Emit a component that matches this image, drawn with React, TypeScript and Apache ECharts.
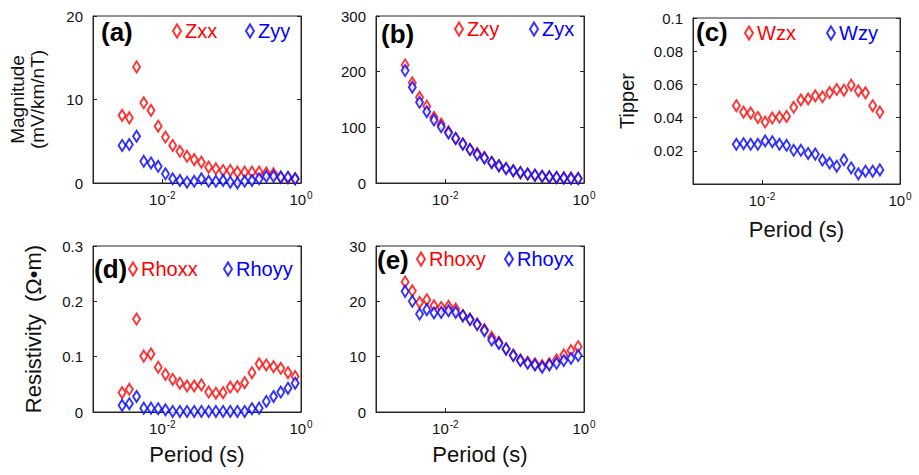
import React, { useEffect, useRef } from "react";
import * as echarts from "echarts";

const periods = [0.00263, 0.00334, 0.00425, 0.0054, 0.00686, 0.00871, 0.0111, 0.0141, 0.0179, 0.0227, 0.0288, 0.0366, 0.0466, 0.0592, 0.0752, 0.0955, 0.121, 0.154, 0.196, 0.249, 0.316, 0.402, 0.511, 0.649, 0.824];
const tipperPeriods = [0.00425, 0.0054, 0.00686, 0.00871, 0.0111, 0.0141, 0.0179, 0.0227, 0.0288, 0.0366, 0.0466, 0.0592, 0.0752, 0.0955, 0.121, 0.154, 0.196, 0.249, 0.316, 0.402, 0.511];

const zxx = [8.1, 7.8, 13.9, 9.6, 8.7, 6.8, 5.5, 4.5, 3.8, 3.2, 2.8, 2.5, 1.9, 1.7, 1.5, 1.5, 1.3, 1.3, 1.3, 1.3, 1.2, 1.1, 0.7, 0.6, 0.5];
const zyy = [4.5, 4.6, 5.6, 2.6, 2.4, 2.0, 1.1, 0.5, 0.3, 0.1, 0.2, 0.5, 0.2, 0.2, 0.3, 0.1, 0.0, 0.2, 0.3, 0.5, 0.8, 0.8, 0.7, 0.7, 0.5];
const zxy = [212, 180, 154, 138, 118, 106, 92, 80, 70, 60, 53, 46, 37, 31, 26, 22, 18, 16, 14, 12, 11, 10, 9, 9, 8];
const zyx = [202, 172, 145, 128, 113, 101, 90, 80, 70, 60, 51, 45, 37, 31, 26, 22, 19, 16, 14, 12, 11, 10, 9, 8, 8];
const wzx = [0.0472, 0.0433, 0.0427, 0.0401, 0.0373, 0.0397, 0.0403, 0.0407, 0.0462, 0.0506, 0.0512, 0.0531, 0.0525, 0.0551, 0.0569, 0.0565, 0.0595, 0.0561, 0.0549, 0.0472, 0.0433];
const wzy = [0.0239, 0.0243, 0.0239, 0.0239, 0.0259, 0.0255, 0.0239, 0.0233, 0.0203, 0.0203, 0.0184, 0.018, 0.0144, 0.0126, 0.0107, 0.0146, 0.0097, 0.0061, 0.0077, 0.0077, 0.0085];
const rhoxx = [0.035, 0.041, 0.168, 0.101, 0.105, 0.081, 0.068, 0.059, 0.052, 0.047, 0.047, 0.049, 0.036, 0.034, 0.035, 0.045, 0.046, 0.053, 0.071, 0.087, 0.085, 0.082, 0.079, 0.071, 0.064];
const rhoyy = [0.012, 0.015, 0.028, 0.007, 0.007, 0.006, 0.004, 0.001, 0.001, 0.001, 0.001, 0.001, 0.001, 0.001, 0.001, 0.001, 0.001, 0.001, 0.006, 0.007, 0.019, 0.028, 0.036, 0.043, 0.052];
const rhoxy = [23.5, 21.9, 19.8, 20.3, 19.2, 18.9, 19.1, 18.6, 17.4, 16.8, 15.9, 14.9, 13.5, 12.6, 11.4, 10.3, 9.4, 9.0, 8.7, 8.4, 8.7, 9.4, 10.3, 11.1, 11.8];
const rhoyx = [21.8, 20.0, 17.7, 18.5, 17.9, 18.0, 18.3, 18.0, 17.4, 16.7, 15.8, 14.7, 13.0, 12.4, 11.4, 10.2, 9.3, 8.8, 8.5, 8.1, 8.5, 8.8, 9.3, 9.7, 10.2];

const panelLabels = ["(a)", "(b)", "(c)", "(d)", "(e)"];
const xTickValues = [0.01];
const xLabelValues = [0.01, 1];

const RED = "#ff0000";
const BLUE = "#0000ff";
const FONT = "'Liberation Sans', Arial, Helvetica, sans-serif";
const AXC = "#262626";

export default function App() {
  const ref = useRef<HTMLDivElement>(null);
  useEffect(() => {
    document.body.style.margin = "0";
    const chart = echarts.init(ref.current!, null, { renderer: "svg" });

    const grids = [
      { left: 93, top: 16, width: 208, height: 167 },
      { left: 376, top: 16, width: 208, height: 167 },
      { left: 693, top: 18, width: 207, height: 166 },
      { left: 93, top: 246, width: 208, height: 166 },
      { left: 376, top: 246, width: 208, height: 166 },
    ].map((g) => ({ ...g, show: true, borderColor: AXC, borderWidth: 1, backgroundColor: "transparent" }));

    const xName = [null, null, "Period (s)", "Period (s)", "Period (s)"];
    const xGap = [30, 30, 34, 31, 31];
    const xAxis = grids.map((_, i) => ({
      type: "log",
      logBase: 10,
      gridIndex: i,
      min: 0.001,
      max: 1,
      name: xName[i] || "",
      nameLocation: "middle",
      nameGap: xGap[i],
      nameTextStyle: { fontSize: 22, fontFamily: FONT, color: "#111", verticalAlign: "top" },
      axisLine: { show: true, lineStyle: { color: AXC } },
      axisTick: { show: true, inside: true, length: 4, lineStyle: { color: AXC }, customValues: xTickValues },
      minorTick: { show: false },
      splitLine: { show: false },
      axisLabel: {
        customValues: xLabelValues,
        margin: 7,
        formatter: (v: number) => {
          const e = Math.round(Math.log10(v));
          if (e !== -2 && e !== 0) return "";
          return "{b|10}{s|" + e + "}";
        },
        rich: {
          b: { fontSize: 15, fontFamily: FONT, color: "#111", lineHeight: 18 },
          s: { fontSize: 10, fontFamily: FONT, color: "#111", verticalAlign: "top", lineHeight: 10, padding: [0, 0, 0, 1] },
        },
      },
    }));

    const yCfg = [
      { min: 0, max: 20, interval: 10, name: "Magnitude\n(mV/km/nT)", gap: 46, fs: 19 },
      { min: 0, max: 300, interval: 100, name: "", gap: 40, fs: 18 },
      { min: 0, max: 0.1, interval: 0.02, name: "Tipper", gap: 56, fs: 20 },
      { min: 0, max: 0.3, interval: 0.1, name: "Resistivity  (Ω•m)", gap: 50, fs: 22 },
      { min: 0, max: 30, interval: 10, name: "", gap: 40, fs: 18 },
    ];
    const yAxis: any[] = [];
    yCfg.forEach((c, i) => {
      yAxis.push({
        type: "value",
        gridIndex: i,
        min: c.min,
        max: c.max,
        interval: c.interval,
        name: c.name,
        nameLocation: "middle",
        nameRotate: 90,
        nameGap: c.gap,
        nameTextStyle: { fontSize: c.fs, fontFamily: FONT, color: "#111", lineHeight: 20 },
        axisLine: { show: true, lineStyle: { color: AXC } },
        axisTick: { show: true, inside: true, length: 4, lineStyle: { color: AXC } },
        splitLine: { show: false },
        axisLabel: {
          fontSize: 15,
          fontFamily: FONT,
          color: "#111",
          margin: 10,
          formatter: (v: number) => (i === 2 && v === 0 ? "" : String(+v.toFixed(4))),
        },
      });
      yAxis.push({
        type: "value",
        gridIndex: i,
        position: "right",
        min: c.min,
        max: c.max,
        interval: c.interval,
        axisLine: { show: true, lineStyle: { color: AXC } },
        axisTick: { show: true, inside: true, length: 4, lineStyle: { color: AXC } },
        splitLine: { show: false },
        axisLabel: { show: false },
      });
    });

    const mk = (name: string, gi: number, xs: number[], ys: number[], color: string) => ({
      type: "scatter",
      name,
      xAxisIndex: gi,
      yAxisIndex: gi * 2,
      symbol: "emptyDiamond",
      symbolSize: [7, 11],
      itemStyle: { color, borderColor: color, borderWidth: 1 },
      data: xs.map((x, k) => [x, ys[k]]),
      z: 3,
    });

    const series = [
      mk("Zxx", 0, periods, zxx, RED),
      mk("Zyy", 0, periods, zyy, BLUE),
      mk("Zxy", 1, periods, zxy, RED),
      mk("Zyx", 1, periods, zyx, BLUE),
      mk("Wzx", 2, tipperPeriods, wzx, RED),
      mk("Wzy", 2, tipperPeriods, wzy, BLUE),
      mk("Rhoxx", 3, periods, rhoxx, RED),
      mk("Rhoyy", 3, periods, rhoyy, BLUE),
      mk("Rhoxy", 4, periods, rhoxy, RED),
      mk("Rhoyx", 4, periods, rhoyx, BLUE),
    ];

    const legPos: [string, number, number, string][] = [
      ["Zxx", 172, 21, RED],
      ["Zyy", 245, 21, BLUE],
      ["Zxy", 454, 19, RED],
      ["Zyx", 529, 19, BLUE],
      ["Wzx", 744, 23, RED],
      ["Wzy", 826, 23, BLUE],
      ["Rhoxx", 128, 259, RED],
      ["Rhoyy", 223, 259, BLUE],
      ["Rhoxy", 416, 249, RED],
      ["Rhoyx", 504, 249, BLUE],
    ];
    const legend = legPos.map(([n, l, t, c]) => ({
      data: [n],
      left: l,
      top: t,
      padding: 0,
      icon: "emptyDiamond",
      itemWidth: 8,
      itemHeight: 13,
      itemGap: 0,
      selectedMode: false,
      itemStyle: { color: c, borderColor: c, borderWidth: 1 },
      textStyle: { color: c, fontSize: 20, fontFamily: FONT, padding: [0, 0, 0, -1] },
    }));

    const labPos: [number, number][] = [
      [101, 34],
      [381, 36],
      [696, 34],
      [94, 271],
      [377, 262],
    ];
    const graphic = panelLabels.map((t, i) => ({
      type: "text",
      left: labPos[i][0],
      top: labPos[i][1] - 15,
      z: 10,
      style: { text: t, font: `bold 26px ${FONT}`, fill: "#000" },
    }));

    chart.setOption({
      animation: false,
      backgroundColor: "#fff",
      grid: grids,
      xAxis,
      yAxis,
      series,
      legend,
      graphic,
    });
    return () => chart.dispose();
  }, []);
  return <div ref={ref} style={{ position: "absolute", left: 0, top: 0, width: 919, height: 475 }} />;
}
